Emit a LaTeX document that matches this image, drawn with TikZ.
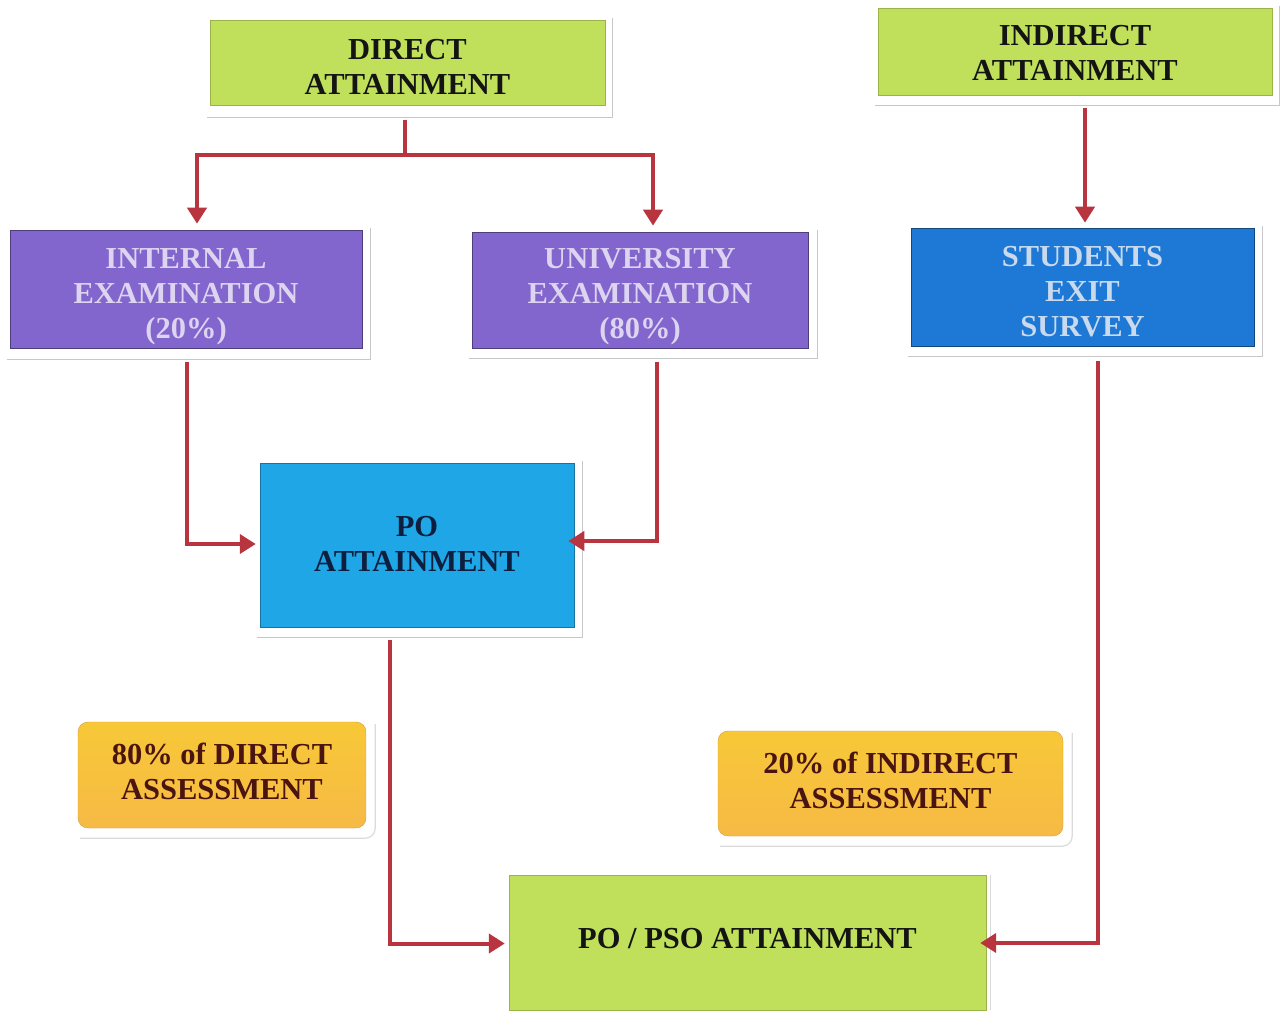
\documentclass[tikz,border=0pt]{standalone}
\usepackage{fontspec}
\setmainfont{Liberation Serif}
\usetikzlibrary{arrows.meta,calc}
\definecolor{attgreen}{HTML}{C0E05C}
\definecolor{exampurple}{HTML}{8265CD}
\definecolor{surveyblue}{HTML}{1E78D6}
\definecolor{poblue}{HTML}{1EA6E6}
\definecolor{pctorange}{HTML}{F6BA45}
\definecolor{connred}{HTML}{B8343F}
\definecolor{maroon}{HTML}{4A1410}
\definecolor{lavtext}{HTML}{DCD4F0}
\definecolor{bluetext}{HTML}{C9DAEE}
\definecolor{navytext}{HTML}{0E1E3E}
\newcommand\bxtext[2]{\raisebox{#1}[\height][\depth]{\begin{tabular}{@{}c@{}}#2\end{tabular}}}
\begin{document}
\begin{tikzpicture}[x=1pt,y=-1pt,
  box/.style={rectangle, inner sep=0pt, align=center,
    font=\fontsize{30.5}{35}\selectfont\bfseries},
  greenbox/.style={box, fill=attgreen, draw=attgreen!80!black, line width=0.4pt, text=black!92},
  purplebox/.style={box, fill=exampurple, draw=exampurple!60!black, line width=0.6pt, text=lavtext},
  surveybox/.style={box, fill=surveyblue, draw=surveyblue!60!black, line width=0.6pt, text=bluetext},
  pobox/.style={box, fill=poblue, draw=poblue!70!black, line width=0.5pt, text=navytext},
  pctbox/.style={box, rounded corners=10pt, top color=pctorange!80!yellow, bottom color=pctorange,
    draw=pctorange!85!black, line width=0.4pt, text=maroon},
  shadowline/.style={draw=black!22, line width=1.2pt},
  conn/.style={draw=connred, line width=4pt, -{Triangle[length=16pt,width=19pt]}}
]
\useasboundingbox[fill=white] (0,0) rectangle (1281,1017);

% nodes
\node[greenbox, minimum width=395pt, minimum height=85pt] (direct) at (407.5,62.5) {\bxtext{-7pt}{DIRECT\\ATTAINMENT}};
\node[greenbox, minimum width=394pt, minimum height=87pt] (indirect) at (1075,51.5) {\bxtext{-4pt}{INDIRECT\\ATTAINMENT}};
\node[purplebox, minimum width=352pt, minimum height=118pt] (internal) at (186,289) {\bxtext{-7pt}{INTERNAL\\EXAMINATION\\(20\%)}};
\node[purplebox, minimum width=336pt, minimum height=116pt] (univ) at (640,290) {\bxtext{-6pt}{UNIVERSITY\\EXAMINATION\\(80\%)}};
\node[surveybox, minimum width=343pt, minimum height=118pt] (students) at (1082.5,287) {\bxtext{-7pt}{STUDENTS\\EXIT\\SURVEY}};
\node[pobox, minimum width=314pt, minimum height=164pt] (po) at (417,545) {\bxtext{-2pt}{PO\\ATTAINMENT}};
\node[pctbox, minimum width=288pt, minimum height=106pt] (pct80) at (222,775) {\bxtext{0pt}{80\% of DIRECT\\ASSESSMENT}};
\node[pctbox, minimum width=345pt, minimum height=105pt] (pct20) at (890.5,783.5) {\bxtext{0pt}{20\% of INDIRECT\\ASSESSMENT}};
\node[greenbox, minimum width=477pt, minimum height=135pt] (pso) at (747.5,942.5) {\bxtext{1pt}{PO / PSO ATTAINMENT}};

% frame shadow lines (bottom and right)
\foreach \n/\r/\b in {direct/7/12, indirect/7/10, internal/8/11, univ/9/10, students/8/10, po/8/10}{
  \draw[shadowline] ([xshift=-3pt,yshift=-\b pt]\n.south west) -- ([xshift=\r pt,yshift=-\b pt]\n.south east)
    -- ([xshift=\r pt,yshift=2pt]\n.north east);
}
\foreach \n in {pct80,pct20}{
  \draw[shadowline, draw=black!14, rounded corners=10pt] ([xshift=2pt,yshift=-10pt]\n.south west) -- ([xshift=9pt,yshift=-10pt]\n.south east)
    -- ([xshift=9pt,yshift=-2pt]\n.north east);
}
\draw[shadowline, draw=black!15] ([xshift=4pt]pso.north east) -- ([xshift=4pt]pso.south east);

% connectors
\coordinate (split) at (405,155);
\draw[connred, line width=4pt] ([yshift=-15pt]direct.south -| split) -- (split);
\draw[conn, shorten >=6pt] (split) -| ([xshift=11pt]internal.north);
\draw[conn, shorten >=6pt] (split) -| ([xshift=13pt]univ.north);
\draw[conn, shorten >=5pt] ($(indirect.south -| students.north)+(2.5,13)$) -- ([xshift=2.5pt]students.north);
\draw[conn, shorten >=4pt] ([xshift=1pt,yshift=-14pt]internal.south) |- ([yshift=1pt]po.west);
\draw[conn, shorten >=-6pt] ([xshift=17pt,yshift=-14pt]univ.south) |- ([yshift=4pt]po.east);
\draw[conn, shorten >=4pt] ([xshift=-27pt,yshift=-13pt]po.south) |- ([yshift=-1pt]pso.west);
\draw[conn, shorten >=-6pt] ([xshift=15.5pt,yshift=-15pt]students.south) |- ([yshift=-0.5pt]pso.east);
\end{tikzpicture}
\end{document}
